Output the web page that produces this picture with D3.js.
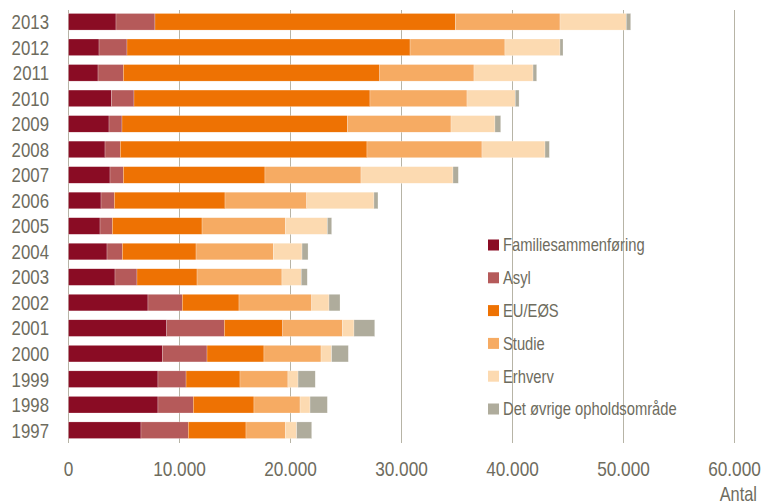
<!DOCTYPE html>
<html>
<head>
<meta charset="utf-8">
<script src="https://cdn.jsdelivr.net/npm/d3@7"></script>
<style>
  body { margin: 0; background: #fff; }
  svg { display: block; font-family: "Liberation Sans", Arial, sans-serif; }
  .lbl { fill: #6e6c5e; }
</style>
</head>
<body>
<div id="chart"></div>
<script>
// data (thousands)
const years = ['2013','2012','2011','2010','2009','2008','2007','2006','2005','2004','2003','2002','2001','2000','1999','1998','1997'];
const series = ['Familiesammenføring','Asyl','EU/EØS','Studie','Erhverv','Det øvrige opholdsområde'];
const familie = [4.28, 2.75, 2.66, 3.86, 3.65, 3.29, 3.74, 2.93, 2.84, 3.47, 4.19, 7.16, 8.85, 8.45, 8.06, 8.06, 6.53];
const asyl    = [3.51, 2.52, 2.28, 2.04, 1.17, 1.38, 1.20, 1.20, 1.11, 1.38, 1.98, 3.09, 5.19, 4.03, 2.53, 3.18, 4.26];
const eu      = [27.06, 25.50, 23.10, 21.26, 20.30, 22.22, 12.76, 9.97, 8.08, 6.64, 5.41, 5.11, 5.26, 5.13, 4.86, 5.47, 5.20];
const studie  = [9.43, 8.55, 8.49, 8.74, 9.34, 10.36, 8.65, 7.36, 7.50, 6.96, 7.65, 6.55, 5.37, 5.14, 4.32, 4.15, 3.54];
const erhverv = [5.97, 4.96, 5.32, 4.35, 3.96, 5.68, 8.29, 6.06, 3.79, 2.59, 1.74, 1.56, 1.05, 0.96, 0.91, 0.90, 1.03];
const ovrige  = [0.40, 0.27, 0.33, 0.34, 0.52, 0.39, 0.48, 0.36, 0.39, 0.54, 0.54, 0.99, 1.87, 1.50, 1.55, 1.56, 1.35];
const xTicks = [0, 10000, 20000, 30000, 40000, 50000, 60000];
const colors = ['#8a0c24', '#b55a5a', '#ee7203', '#f6ab63', '#fcdab1', '#afac9c'];

const W = 763, H = 504;
const svg = d3.select('#chart').append('svg').attr('width', W).attr('height', H);

const cols = [familie, asyl, eu, studie, erhverv, ovrige];
const rows = years.map((y, i) => {
  const r = { year: y };
  series.forEach((s, k) => { r[s] = cols[k][i] * 1000; });
  return r;
});
const stacked = d3.stack().keys(series)(rows);

const x = d3.scaleLinear().domain([0, 60000]).range([68.5, 734.5]);
const y = d3.scaleBand().domain(years).range([9, 443]).paddingInner(0.35).paddingOuter(0.175);

const fmt = d => d3.format(',')(d).replace(/,/g, '.');
const narrow = 0.82; // no condensed font installed, squeeze Liberation Sans instead
const at = (px, py) => `translate(${px},${py}) scale(${narrow},1)`;

// grid
svg.append('g').selectAll('line').data(xTicks).join('line')
  .attr('x1', d => x(d)).attr('x2', d => x(d))
  .attr('y1', 10).attr('y2', 443)
  .attr('stroke', '#b7b4a6').attr('stroke-width', 1);

// bars
svg.append('g').selectAll('g').data(stacked).join('g')
  .attr('fill', (d, i) => colors[i])
  .selectAll('rect').data(d => d).join('rect')
  .attr('x', d => x(d[0]))
  .attr('width', d => x(d[1]) - x(d[0]))
  .attr('y', d => y(d.data.year))
  .attr('height', y.bandwidth())
  .attr('stroke', '#fff').attr('stroke-width', 0.4).attr('stroke-opacity', 0.6);

// year labels
svg.append('g').selectAll('text').data(years).join('text')
  .attr('class', 'lbl')
  .attr('transform', d => at(49, y(d) + y.bandwidth() / 2))
  .attr('dy', '0.36em').attr('text-anchor', 'end')
  .attr('font-size', 20.5)
  .text(d => d);

// x tick labels
svg.append('g').selectAll('text').data(xTicks).join('text')
  .attr('class', 'lbl')
  .attr('transform', d => at(x(d), 476))
  .attr('text-anchor', 'middle').attr('font-size', 21)
  .text(fmt);

svg.append('text').attr('class', 'lbl')
  .attr('transform', at(757, 501)).attr('text-anchor', 'end')
  .attr('font-size', 20).text('Antal');

// legend
const leg = svg.append('g').selectAll('g').data(series).join('g')
  .attr('transform', (d, i) => `translate(488,${245 + i * 32.8})`);
leg.append('rect').attr('x', 0).attr('y', -5.5).attr('width', 11).attr('height', 11)
  .attr('fill', (d, i) => colors[i]);
leg.append('text').attr('class', 'lbl')
  .attr('transform', at(15, 0))
  .attr('dy', '0.36em').attr('font-size', 18)
  .text(d => d);
</script>
</body>
</html>
